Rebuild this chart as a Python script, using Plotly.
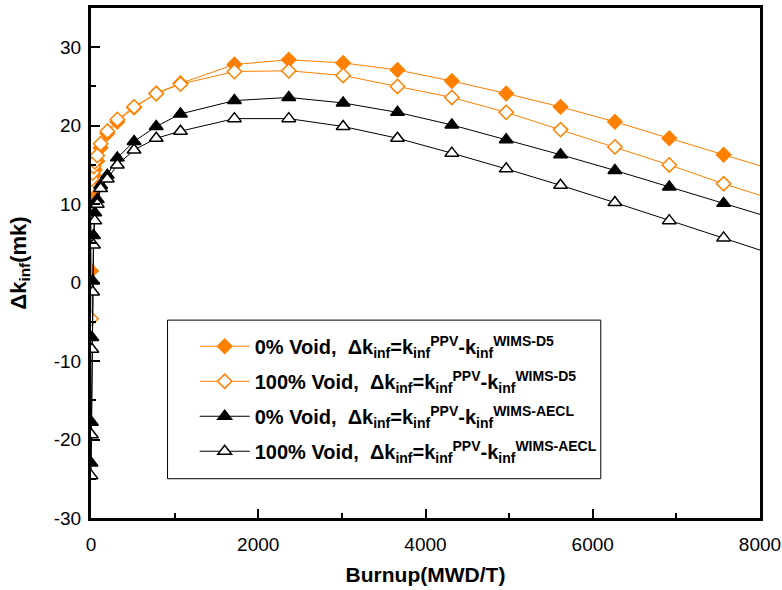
import plotly.graph_objects as go

burnup = [0, 5, 10, 20, 30, 45, 75, 115, 195, 315, 515, 780, 1070,
          1715, 2365, 3015, 3665, 4315, 4965, 5615, 6265, 6915, 7565, 8215]

void0_d5 = [1.5, 11.5, 12.3, 13.0, 13.7, 14.4, 15.5, 17.2, 19.0, 20.5, 22.3, 24.1, 25.4,
            27.8, 28.4, 28.0, 27.1, 25.7, 24.1, 22.4, 20.5, 18.4, 16.3, 14.2]
void100_d5 = [-4.6, 12.3, 13.2, 14.0, 14.8, 15.4, 16.2, 17.7, 19.3, 20.8, 22.4, 24.1, 25.3,
              26.9, 27.0, 26.4, 25.0, 23.6, 21.7, 19.5, 17.3, 15.0, 12.6, 10.4]
void0_aecl = [-23.0, -17.8, -7.0, 0.2, 6.0, 8.9, 10.6, 12.4, 13.7, 15.9, 18.0, 19.9, 21.5,
              23.2, 23.6, 22.9, 21.7, 20.1, 18.2, 16.3, 14.3, 12.2, 10.1, 8.0]
void100_aecl = [-24.6, -19.4, -8.5, -1.2, 4.8, 7.9, 10.0, 12.0, 13.2, 15.0, 16.9, 18.4, 19.3,
                20.9, 20.9, 19.9, 18.4, 16.5, 14.5, 12.4, 10.2, 7.9, 5.7, 3.4]

names = [
    "0% Void,  Δk<sub>inf</sub>=k<sub>inf</sub><sup>PPV</sup>-k<sub>inf</sub><sup>WIMS-D5</sup>",
    "100% Void,  Δk<sub>inf</sub>=k<sub>inf</sub><sup>PPV</sup>-k<sub>inf</sub><sup>WIMS-D5</sup>",
    "0% Void,  Δk<sub>inf</sub>=k<sub>inf</sub><sup>PPV</sup>-k<sub>inf</sub><sup>WIMS-AECL</sup>",
    "100% Void,  Δk<sub>inf</sub>=k<sub>inf</sub><sup>PPV</sup>-k<sub>inf</sub><sup>WIMS-AECL</sup>",
]

x_ticks = [0, 2000, 4000, 6000, 8000]
x_ticktext = ["0", "2000", "4000", "6000", "8000"]
y_ticks = [-30, -20, -10, 0, 10, 20, 30]
y_ticktext = ["-30", "-20", "-10", "0", "10", "20", "30"]

ORANGE = "#FF8000"
series = [void0_d5, void100_d5, void0_aecl, void100_aecl]
styles = [
    dict(line=ORANGE, symbol="diamond", fill=ORANGE, size=11),
    dict(line=ORANGE, symbol="diamond", fill="white", size=11),
    dict(line="black", symbol="triangle-up", fill="black", size=12),
    dict(line="black", symbol="triangle-up", fill="white", size=12),
]

fig = go.Figure()
for i, (ys, nm, st) in enumerate(zip(series, names, styles)):
    fig.add_trace(go.Scatter(
        x=burnup, y=ys, name=nm, mode="lines+markers", legendgroup=f"g{i}",
        line=dict(color=st["line"], width=1),
        marker=dict(symbol=st["symbol"], size=st["size"], color=st["fill"],
                    line=dict(color=st["line"], width=1.5)),
    ))

font_family = "Liberation Sans, Arial, sans-serif"

# legend frame (paper coordinates)
fig.add_shape(type="rect", xref="paper", yref="paper",
              x0=0.1144, x1=0.762, y0=0.077, y1=0.388,
              line=dict(color="black", width=1), fillcolor="white", layer="above")

fig.update_layout(
    width=782, height=590,
    margin=dict(l=91, r=22, t=8, b=72),
    paper_bgcolor="white", plot_bgcolor="white",
    font=dict(family=font_family, size=19, color="black"),
    showlegend=True,
    legend=dict(
        x=0.155, y=0.375, xanchor="left", yanchor="top",
        bgcolor="rgba(0,0,0,0)", borderwidth=0,
        font=dict(family=font_family, size=20, color="black", weight="bold"),
        tracegroupgap=6, itemwidth=50, traceorder="grouped",
    ),
    xaxis=dict(
        range=[0, 8000], tickvals=x_ticks, ticktext=x_ticktext,
        ticks="inside", ticklen=9, tickwidth=1.5, tickcolor="black",
        minor=dict(tickvals=[1000, 3000, 5000, 7000], ticks="inside", ticklen=5,
                   tickwidth=1.5, tickcolor="black", showgrid=False),
        showline=True, linecolor="black", linewidth=3, mirror=True,
        showgrid=False, zeroline=False, automargin=False,
        tickfont=dict(size=19), ticklabelstandoff=7,
        title=dict(text="<b>Burnup(MWD/T)</b>", font=dict(size=21), standoff=14),
    ),
    yaxis=dict(
        range=[-30, 35], tickvals=y_ticks, ticktext=y_ticktext,
        ticks="inside", ticklen=9, tickwidth=1.5, tickcolor="black",
        minor=dict(tickvals=[-25, -15, -5, 5, 15, 25], ticks="inside", ticklen=5,
                   tickwidth=1.5, tickcolor="black", showgrid=False),
        showline=True, linecolor="black", linewidth=3, mirror=True,
        showgrid=False, zeroline=False, automargin=False,
        tickfont=dict(size=19), ticklabelstandoff=3,
        title=dict(text="<b>Δk<sub>inf</sub>(mk)</b>", font=dict(size=22), standoff=22),
    ),
)

fig.write_html("out.html")
